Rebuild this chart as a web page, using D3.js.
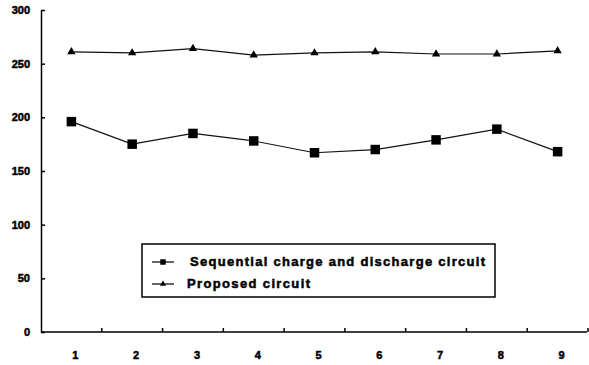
<!DOCTYPE html>
<html>
<head>
<meta charset="utf-8">
<script src="https://cdn.jsdelivr.net/npm/d3@7"></script>
<style>
  body { margin: 0; background: #fff; }
  text { font-family: "Liberation Sans", Arial, sans-serif; font-weight: bold; fill: #000; stroke: #000; stroke-width: 0.5; }
</style>
</head>
<body>
<svg id="chart"></svg>
<script>
// values
const categories = ["1", "2", "3", "4", "5", "6", "7", "8", "9"];
const sequential = [196, 175, 185, 178, 167, 170, 179, 189, 168];
const proposed = [261, 260, 264, 258, 260, 261, 259, 259, 262];
const yTicks = [0, 50, 100, 150, 200, 250, 300];
const seriesNames = ["Sequential charge and discharge circuit", "Proposed circuit"];

const width = 589;
const height = 365;
const margin = {top: 10, right: 1, bottom: 33, left: 41};

const svg = d3.select("#chart")
    .attr("width", width)
    .attr("height", height);

const x = d3.scaleBand()
    .domain(categories)
    .range([margin.left, width - margin.right]);

const y = d3.scaleLinear()
    .domain([0, 300])
    .range([height - margin.bottom, margin.top]);

// y axis
const yAxis = svg.append("g")
    .attr("transform", `translate(${margin.left},0)`)
    .call(d3.axisRight(y).tickValues(yTicks).tickSize(4).tickSizeOuter(0).tickFormat(""));
yAxis.select(".domain").attr("stroke", "#000").attr("stroke-width", 1.5);
yAxis.selectAll(".tick line").attr("stroke", "#000").attr("stroke-width", 1.5);

svg.append("g")
    .selectAll("text")
    .data(yTicks)
    .enter().append("text")
    .attr("x", 30)
    .attr("y", d => y(d) + 4)
    .attr("text-anchor", "end")
    .attr("font-size", 11)
    .text(d => d);

// x axis with ticks at category boundaries
const xAxisY = y(0);
svg.append("line")
    .attr("x1", margin.left).attr("x2", width - 2)
    .attr("y1", xAxisY).attr("y2", xAxisY)
    .attr("stroke", "#000").attr("stroke-width", 1.5);

svg.append("g")
    .selectAll("line")
    .data(categories)
    .enter().append("line")
    .attr("x1", d => x(d) + x.bandwidth())
    .attr("x2", d => x(d) + x.bandwidth())
    .attr("y1", xAxisY)
    .attr("y2", xAxisY - 4)
    .attr("stroke", "#000").attr("stroke-width", 1.5);

svg.append("g")
    .selectAll("text")
    .data(categories)
    .enter().append("text")
    .attr("x", d => x(d) + x.bandwidth() / 2 + 4)
    .attr("y", xAxisY + 27)
    .attr("text-anchor", "middle")
    .attr("font-size", 11)
    .text(d => d);

const cx = d => x(d) + x.bandwidth() / 2;

const line = d3.line()
    .x((d, i) => cx(categories[i]))
    .y(d => y(d));

svg.append("path")
    .datum(sequential)
    .attr("d", line)
    .attr("fill", "none")
    .attr("stroke", "#111")
    .attr("stroke-width", 1.2);

svg.append("path")
    .datum(proposed)
    .attr("d", line)
    .attr("fill", "none")
    .attr("stroke", "#111")
    .attr("stroke-width", 1.2);

const square = d3.symbol().type(d3.symbolSquare).size(90);
const triangle = d3.symbol().type(d3.symbolTriangle).size(30);

svg.append("g")
    .selectAll("path")
    .data(sequential)
    .enter().append("path")
    .attr("d", square)
    .attr("transform", (d, i) => `translate(${cx(categories[i])},${y(d)})`)
    .attr("fill", "#000");

svg.append("g")
    .selectAll("path")
    .data(proposed)
    .enter().append("path")
    .attr("d", triangle)
    .attr("transform", (d, i) => `translate(${cx(categories[i])},${y(d)})`)
    .attr("fill", "#000");

// legend
const legend = svg.append("g");
legend.append("rect")
    .attr("x", 142).attr("y", 244)
    .attr("width", 353).attr("height", 53)
    .attr("fill", "#fff")
    .attr("stroke", "#000").attr("stroke-width", 1.5);

const legendRows = [
    {name: seriesNames[0], marker: square.size(30), y: 262, tx: 190, tw: 295},
    {name: seriesNames[1], marker: triangle.size(16), y: 284, tx: 187, tw: 123}
];

legendRows.forEach(r => {
    legend.append("line")
        .attr("x1", 152).attr("x2", 174)
        .attr("y1", r.y).attr("y2", r.y)
        .attr("stroke", "#000").attr("stroke-width", 1.2);
    legend.append("path")
        .attr("d", r.marker())
        .attr("transform", `translate(163,${r.y})`)
        .attr("fill", "#000");
    legend.append("text")
        .attr("x", r.tx)
        .attr("y", r.y + 4)
        .attr("font-size", 13)
        .attr("textLength", r.tw)
        .attr("lengthAdjust", "spacing")
        .text(r.name);
});
</script>
</body>
</html>
